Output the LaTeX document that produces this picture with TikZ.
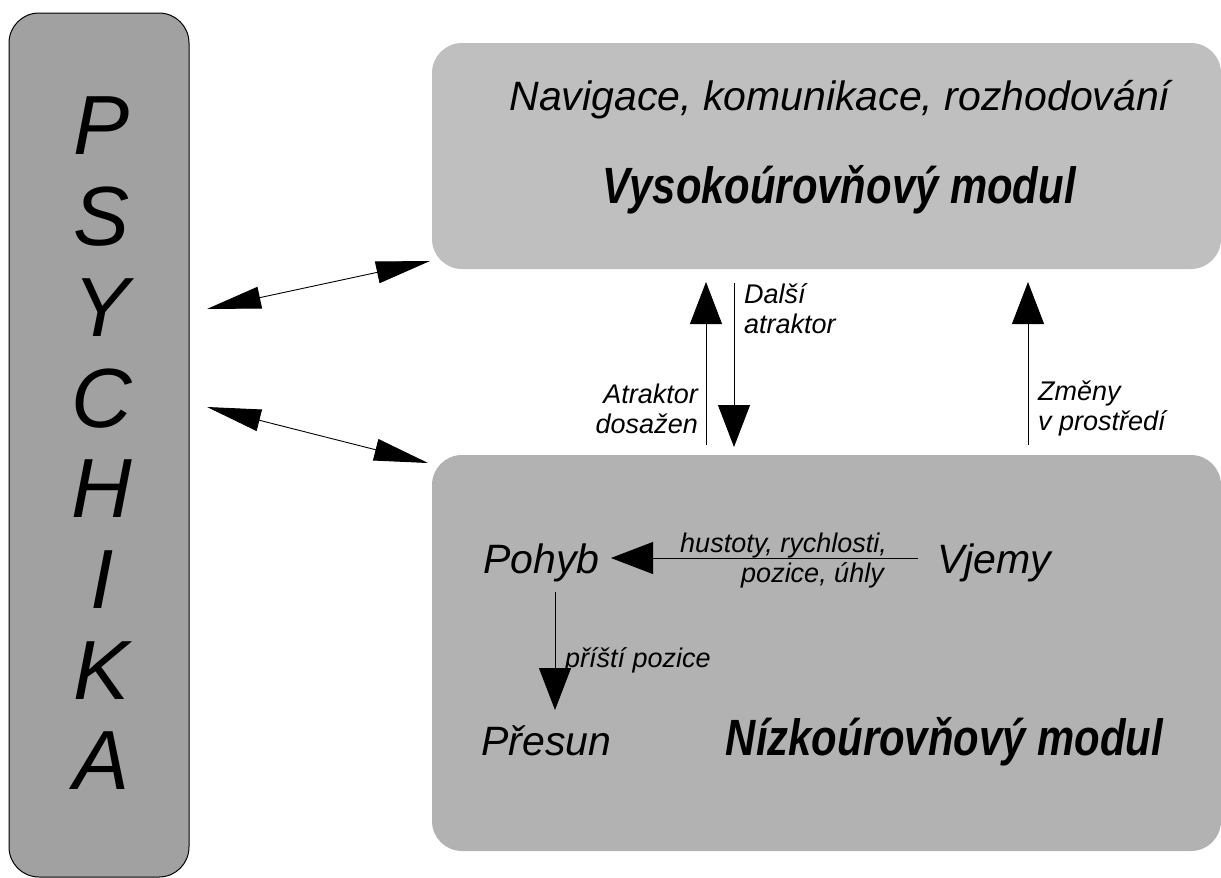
\documentclass[tikz,border=0pt]{standalone}
\usepackage{fontspec}
\setmainfont{Liberation Sans}
\usetikzlibrary{arrows.meta,positioning}

\definecolor{psygray}{gray}{0.63}
\definecolor{highgray}{gray}{0.75}
\definecolor{lowgray}{gray}{0.70}
\newcommand{\narrowtxt}[1]{\scalebox{0.82}[1]{#1}}

\begin{document}
\begin{tikzpicture}[x=1pt,y=-1pt,
  modbox/.style={rounded corners=30pt,inner sep=0pt},
  bighead/.style={-{Triangle[length=42pt,width=32pt]},line width=0.9pt},
  slimhead/.style={{Triangle[length=54pt,width=22pt]}-{Triangle[length=54pt,width=22pt]},line width=0.9pt},
  lbl/.style={font=\fontsize{27}{30}\selectfont\itshape,inner sep=0pt},
  bigtxt/.style={font=\fontsize{41}{48}\selectfont\itshape,inner sep=0pt},
  boldtxt/.style={font=\fontsize{51}{56}\selectfont\bfseries\itshape,inner sep=0pt}]
  \useasboundingbox (0,0) rectangle (1221,878);

  %the three blocks
  \node[modbox,draw=black,line width=1pt,fill=psygray,minimum width=180pt,minimum height=864pt] (psy) at (99,445) {};
  \node[modbox,fill=highgray,minimum width=789pt,minimum height=226pt] (high) at (826.5,156) {};
  \node[modbox,fill=lowgray,minimum width=789pt,minimum height=396pt] (low) at (826.5,653) {};

  %letters of the left column
  \foreach \ch [count=\i from 0] in {P,S,Y,C,H,I,K,A}
    \node[font=\fontsize{84}{90}\selectfont\itshape,inner sep=0pt] (psy\i) at (102,126+90.7*\i) {\ch};

  %high level module
  \node[bigtxt,anchor=base] (nav) at (840,110) {Navigace, komunikace, rozhodování};
  \node[boldtxt,anchor=base] (vys) at (839,203) {\narrowtxt{Vysokoúrovňový modul}};

  %low level module
  \node[bigtxt,anchor=base west] (pohyb) at (483,573) {Pohyb};
  \node[bigtxt,anchor=base west] (vjemy) at (937,573) {Vjemy};
  \node[bigtxt,anchor=base west] (presun) at (481,755) {Přesun};
  \node[boldtxt,anchor=base east] (niz) at (1163,755) {\narrowtxt{Nízkoúrovňový modul}};

  %arrows psychika <-> modules
  \coordinate (psyup) at (207,309);
  \coordinate (psydown) at (207,407);
  \coordinate (highin) at (430,261);
  \coordinate (lowin) at (428,463);
  \draw[slimhead] (psyup) -- (highin);
  \draw[slimhead] (psydown) -- (lowin);

  %arrows between the modules
  \coordinate (reachlow) at (706,445);
  \coordinate (reachhigh) at (706,282);
  \coordinate (nexthigh) at (734,283);
  \coordinate (nextlow) at (734,447);
  \coordinate (envlow) at (1028,445);
  \coordinate (envhigh) at (1028,282);
  \draw[bighead] (reachlow) -- (reachhigh);
  \draw[bighead] (nexthigh) -- (nextlow);
  \draw[bighead] (envlow) -- (envhigh);
  \node[lbl,align=right,anchor=base east] (reach) at (698,433) {Atraktor\\dosažen};
  \node[lbl,align=left,anchor=base west] (next) at (744,333) {Další\\atraktor};
  \node[lbl,align=left,anchor=base west] (env) at (1038,430) {Změny\\v prostředí};

  %inside the low level module
  \coordinate (sensestart) at (918,558);
  \coordinate (moveend) at (611,558);
  \draw[bighead] (sensestart) -- (moveend);
  \node[lbl,anchor=base east] (dens) at (887,552) {hustoty, rychlosti,};
  \node[lbl,anchor=base east] (pos) at (884,582) {pozice, úhly};
  \coordinate (movestart) at (555,592);
  \coordinate (shiftend) at (555,710);
  \draw[bighead] (movestart) -- (shiftend);
  \node[lbl,anchor=base west] (nextpos) at (565,667) {příští pozice};
\end{tikzpicture}
\end{document}
